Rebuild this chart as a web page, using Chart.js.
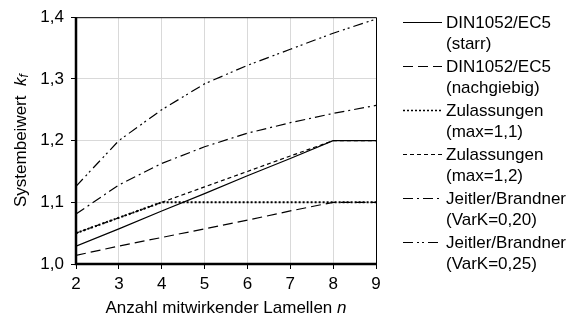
<!DOCTYPE html>
<html>
<head>
<meta charset="utf-8">
<script src="https://cdn.jsdelivr.net/npm/chart.js@4.4.0/dist/chart.umd.min.js"></script>
<style>
  html, body { margin: 0; padding: 0; background: #fff; }
  #wrap { width: 572px; height: 320px; }
</style>
</head>
<body>
<div id="wrap"><canvas id="chart" width="572" height="320"></canvas></div>
<script>
    "use strict";

    // Daten
    var nWerte = [2, 3, 4, 5, 6, 7, 8, 9];
    var dinStarr = [1.029, 1.057, 1.086, 1.114, 1.143, 1.171, 1.2, 1.2];
    var dinNachgiebig = [1.014, 1.029, 1.043, 1.057, 1.071, 1.086, 1.1, 1.1];
    var zulassungen11 = [1.05, 1.075, 1.1, 1.1, 1.1, 1.1, 1.1, 1.1];
    var zulassungen12 = [1.05, 1.075, 1.1, 1.125, 1.15, 1.175, 1.2, 1.2];
    var jeitler20 = [1.081, 1.128, 1.163, 1.19, 1.212, 1.229, 1.244, 1.257];
    var jeitler25 = [1.126, 1.2, 1.25, 1.292, 1.322, 1.348, 1.374, 1.397];

    var yTicks = [1.0, 1.1, 1.2, 1.3, 1.4];
    var legendeText = [
        ["DIN1052/EC5", "(starr)"],
        ["DIN1052/EC5", "(nachgiebig)"],
        ["Zulassungen", "(max=1,1)"],
        ["Zulassungen", "(max=1,2)"],
        ["Jeitler/Brandner", "(VarK=0,20)"],
        ["Jeitler/Brandner", "(VarK=0,25)"]
    ];

    var FONT = "Liberation Sans, Arial, sans-serif";

    function punkte(werte) {
        return werte.map(function (v, i) { return { x: nWerte[i], y: v }; });
    }

    function serie(werte, dash, breite) {
        return {
            data: punkte(werte),
            borderColor: "#000",
            borderWidth: breite,
            borderDash: dash,
            pointRadius: 0,
            fill: false,
            tension: 0
        };
    }

    var datasets = [
        serie(dinStarr, [], 1.2),
        serie(dinNachgiebig, [10, 5], 1.2),
        serie(zulassungen11, [2, 2], 2),
        serie(zulassungen12, [4, 3], 1.2),
        serie(jeitler20, [10, 4, 2, 4], 1.2),
        serie(jeitler25, [10, 4, 2, 3, 2, 4], 1.2)
    ];

    // Rahmen, Achsentitel und Legende
    var extras = {
        id: "extras",
        afterDraw: function (chart) {
            var ctx = chart.ctx;
            var a = chart.chartArea;
            ctx.save();

            // Rahmen
            ctx.strokeStyle = "#000";
            ctx.lineWidth = 1;
            ctx.beginPath();
            ctx.moveTo(a.left, a.top + 0.5);
            ctx.lineTo(a.right + 0.5, a.top + 0.5);
            ctx.lineTo(a.right + 0.5, a.bottom);
            ctx.stroke();
            ctx.lineWidth = 2.5;
            ctx.beginPath();
            ctx.moveTo(a.left, a.top);
            ctx.lineTo(a.left, a.bottom);
            ctx.lineTo(a.right + 1, a.bottom);
            ctx.stroke();

            ctx.fillStyle = "#000";
            ctx.textBaseline = "middle";

            // x-Titel
            var t1 = "Anzahl mitwirkender Lamellen ";
            ctx.font = "17px " + FONT;
            var w1 = ctx.measureText(t1).width;
            ctx.font = "italic 17px " + FONT;
            var w2 = ctx.measureText("n").width;
            var xs = (a.left + a.right) / 2 - (w1 + w2) / 2;
            ctx.textAlign = "left";
            ctx.font = "17px " + FONT;
            ctx.fillText(t1, xs, 308);
            ctx.font = "italic 17px " + FONT;
            ctx.fillText("n", xs + w1, 308);

            // y-Titel
            ctx.save();
            ctx.translate(21, (a.top + a.bottom) / 2);
            ctx.rotate(-Math.PI / 2);
            var s1 = "Systembeiwert  ";
            ctx.font = "17px " + FONT;
            var v1 = ctx.measureText(s1).width;
            ctx.font = "italic 17px " + FONT;
            var v2 = ctx.measureText("k").width;
            ctx.font = "italic 12px " + FONT;
            var v3 = ctx.measureText("f").width;
            var ys = -(v1 + v2 + v3) / 2;
            ctx.font = "17px " + FONT;
            ctx.fillText(s1, ys, 0);
            ctx.font = "italic 17px " + FONT;
            ctx.fillText("k", ys + v1, 0);
            ctx.font = "italic 12px " + FONT;
            ctx.fillText("f", ys + v1 + v2, 4);
            ctx.restore();

            // Legende
            ctx.font = "17px " + FONT;
            ctx.textAlign = "left";
            legendeText.forEach(function (zeilen, i) {
                var ds = chart.data.datasets[i];
                var y = 22 + i * 44;
                ctx.strokeStyle = "#000";
                ctx.lineWidth = ds.borderWidth > 1.5 ? 1.5 : 1;
                ctx.setLineDash(ds.borderDash);
                ctx.beginPath();
                ctx.moveTo(403, y + 0.5);
                ctx.lineTo(442, y + 0.5);
                ctx.stroke();
                ctx.setLineDash([]);
                ctx.fillText(zeilen[0], 446, y + 1);
                ctx.fillText(zeilen[1], 446, y + 22);
            });

            ctx.restore();
        }
    };

    new Chart(document.getElementById("chart").getContext("2d"), {
        type: "line",
        data: { datasets: datasets },
        options: {
            responsive: false,
            animation: false,
            events: [],
            layout: { padding: { top: 14, right: 196, left: 0, bottom: 0 } },
            plugins: {
                legend: { display: false },
                tooltip: { enabled: false }
            },
            scales: {
                x: {
                    type: "linear",
                    min: 2,
                    max: 9,
                    grid: { color: "#d9d9d9", tickColor: "#000", tickLength: 5, lineWidth: 1 },
                    border: { display: false },
                    ticks: {
                        stepSize: 1,
                        color: "#000",
                        padding: 5,
                        font: { family: FONT, size: 17 }
                    },
                    afterFit: function (scale) { scale.height = 56; }
                },
                y: {
                    min: 1.0,
                    max: 1.4,
                    grid: { color: "#d9d9d9", tickColor: "#000", tickLength: 5, lineWidth: 1 },
                    border: { display: false },
                    afterBuildTicks: function (scale) {
                        scale.ticks = yTicks.map(function (v) { return { value: v }; });
                    },
                    ticks: {
                        color: "#000",
                        padding: 7,
                        font: { family: FONT, size: 17 },
                        callback: function (v) { return v.toFixed(1).replace(".", ","); }
                    },
                    afterFit: function (scale) { scale.width = 76; }
                }
            }
        },
        plugins: [extras]
    });
</script>
</body>
</html>
